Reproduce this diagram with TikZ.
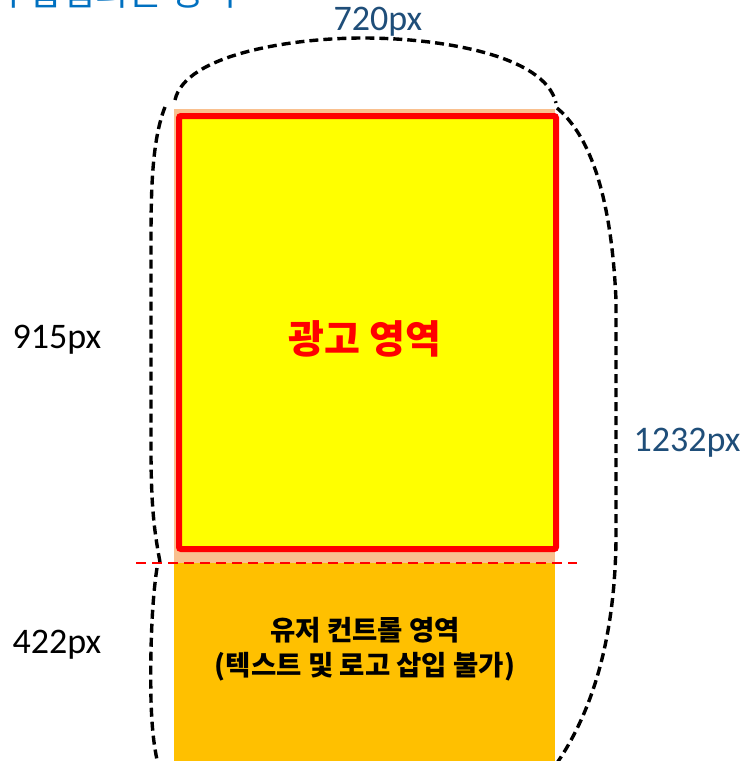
\documentclass[tikz,border=0pt]{standalone}
\usepackage{fontspec}
\setmainfont{Carlito}
\newfontfamily\kr{Noto Sans CJK KR}
\definecolor{adyellow}{HTML}{FFFF00}
\definecolor{adpeach}{HTML}{F9C08F}
\definecolor{ctrlorange}{HTML}{FFC000}
\definecolor{sizeblue}{HTML}{1F4E79}
\definecolor{titleblue}{HTML}{0070C0}

\begin{document}
\begin{tikzpicture}[x=1pt, y=-1pt,
    bracket/.style={black, line width=3.4pt, dash pattern=on 9pt off 5pt},
    sizelbl/.style={font=\fontsize{36}{40}\selectfont}]
    \useasboundingbox (0,0) rectangle (748,761);

    \node[anchor=base east, text=titleblue, font=\kr\fontsize{36}{40}\selectfont] (title) at (240,5) {광고가 삽입되는 영역};

    \fill[adpeach] (174,109) rectangle (555,563);
    \fill[ctrlorange] (174,563) rectangle (555,761);

    \node[draw=red, line width=6pt, fill=adyellow, rounded corners=2pt, minimum width=377pt, minimum height=433pt, inner sep=0pt] (ad) at (367.5,332.5) {};
    \node[text=red, font=\kr\bfseries\fontsize{39}{44}\selectfont] (adtxt) at (365,339) {광고 영역};
    \node[align=center, font=\kr\bfseries\fontsize{27.5}{35}\selectfont] (ctrl) at (365,649) {유저 컨트롤 영역\\(텍스트 및 로고 삽입 불가)};

    \coordinate (cutL) at (136,563);
    \coordinate (cutR) at (577,563);
    \draw[red, line width=1.4pt, dash pattern=on 10pt off 6pt] (cutL) -- (cutR);

    \node[sizelbl, text=sizeblue] (w) at (378,22) {720px};
    \node[sizelbl] (h1) at (57,340) {915px};
    \node[sizelbl] (h2) at (57,645) {422px};
    \node[sizelbl, text=sizeblue] (h) at (687,443) {1232px};

    \draw[bracket] (175,100) .. controls (185,55) and (290,38) .. (363,38) .. controls (440,38) and (545,55) .. (556,103);
    \draw[bracket] (165,107) .. controls (152,140) and (151,190) .. (151,240) -- (151,450) .. controls (151,510) and (155,535) .. (160,562);
    \draw[bracket] (157,568) .. controls (152,600) and (150,650) .. (151,700) .. controls (152,735) and (155,750) .. (158,765);
    \draw[bracket] (557,108) .. controls (595,140) and (612,210) .. (616,300) -- (616,540) .. controls (615,620) and (600,700) .. (557,763);

\end{tikzpicture}
\end{document}
